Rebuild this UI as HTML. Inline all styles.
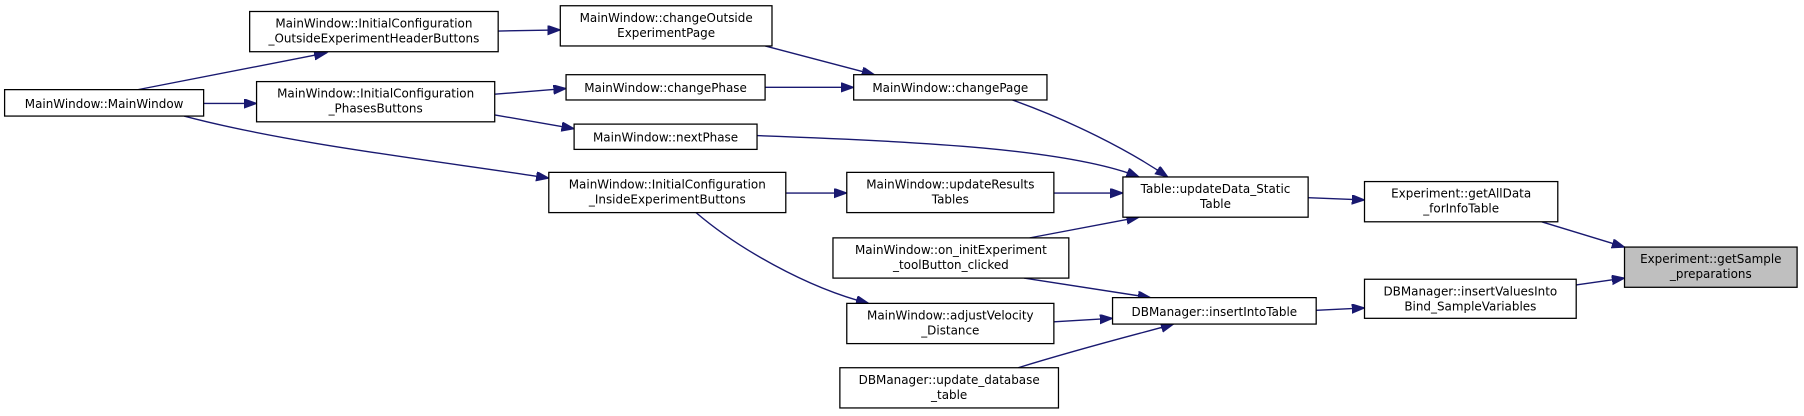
<!DOCTYPE html>
<html><head><meta charset="utf-8"><style>
html,body{margin:0;padding:0;background:#fff;width:1804px;height:416px;overflow:hidden}
svg{display:block}
text{font-family:"DejaVu Sans","Liberation Sans",sans-serif;font-size:10.4px;fill:#000;text-anchor:middle}
rect{fill:#fff;stroke:#000;stroke-width:1.1}
path.e{fill:none;stroke:#191970;stroke-width:1.2}
</style></head><body>
<svg width="1804" height="416" viewBox="0 0 1568 362" preserveAspectRatio="none">
<defs><marker id="a" markerUnits="userSpaceOnUse" markerWidth="13" markerHeight="10" refX="11" refY="4" orient="auto"><path d="M0,0 L11,4 L0,8 z" fill="#191970" stroke="#191970"/></marker></defs>
<g>
<path class="e" marker-end="url(#a)" d="M120,78 L284,46"/>
<path class="e" marker-end="url(#a)" d="M177,90 L223,90"/>
<path class="e" marker-end="url(#a)" d="M160,101 C250,125 380,140 477,155"/>
<path class="e" marker-end="url(#a)" d="M433,27 L487,26"/>
<path class="e" marker-end="url(#a)" d="M430,82 L492,77"/>
<path class="e" marker-end="url(#a)" d="M430,100 L499,112"/>
<path class="e" marker-end="url(#a)" d="M665,40 L760,65"/>
<path class="e" marker-end="url(#a)" d="M665,76 L742,76"/>
<path class="e" marker-end="url(#a)" d="M880,87 C930,105 980,130 1015,154"/>
<path class="e" marker-end="url(#a)" d="M658,118 C800,123 930,130 990,154"/>
<path class="e" marker-end="url(#a)" d="M683,168 L736,168"/>
<path class="e" marker-end="url(#a)" d="M605,185 C640,215 700,250 755,264"/>
<path class="e" marker-end="url(#a)" d="M916,168 L976,168"/>
<path class="e" marker-end="url(#a)" d="M895,207 L990,189"/>
<path class="e" marker-end="url(#a)" d="M890,242 L1000,259"/>
<path class="e" marker-end="url(#a)" d="M916,280 L967,277"/>
<path class="e" marker-end="url(#a)" d="M885,320 C950,300 1000,288 1020,282"/>
<path class="e" marker-end="url(#a)" d="M1144,270 L1186,268"/>
<path class="e" marker-end="url(#a)" d="M1137,172 L1186,174"/>
<path class="e" marker-end="url(#a)" d="M1340,193 L1412,215"/>
<path class="e" marker-end="url(#a)" d="M1370,248 L1412,242"/>
</g>
<rect x="4" y="78" width="173" height="23"/><text x="90.5" y="94">MainWindow::MainWindow</text>
<rect x="217" y="10" width="216" height="35"/><text x="325" y="24">MainWindow::InitialConfiguration</text><text x="325" y="37">_OutsideExperimentHeaderButtons</text>
<rect x="223" y="71" width="207" height="35"/><text x="326.5" y="85">MainWindow::InitialConfiguration</text><text x="326.5" y="98">_PhasesButtons</text>
<rect x="477" y="150" width="206" height="35"/><text x="580" y="164">MainWindow::InitialConfiguration</text><text x="580" y="177">_InsideExperimentButtons</text>
<rect x="487" y="5" width="184" height="35"/><text x="579" y="19">MainWindow::changeOutside</text><text x="579" y="32">ExperimentPage</text>
<rect x="492" y="65" width="173" height="22"/><text x="578.5" y="80">MainWindow::changePhase</text>
<rect x="499" y="108" width="159" height="22"/><text x="578.5" y="123">MainWindow::nextPhase</text>
<rect x="742" y="65" width="168" height="22"/><text x="826" y="80">MainWindow::changePage</text>
<rect x="736" y="150" width="180" height="35"/><text x="826" y="164">MainWindow::updateResults</text><text x="826" y="177">Tables</text>
<rect x="724" y="207" width="205" height="35"/><text x="826.5" y="221">MainWindow::on_initExperiment</text><text x="826.5" y="234">_toolButton_clicked</text>
<rect x="736" y="264" width="180" height="35"/><text x="826" y="278">MainWindow::adjustVelocity</text><text x="826" y="291">_Distance</text>
<rect x="730" y="320" width="190" height="35"/><text x="825" y="334">DBManager::update_database</text><text x="825" y="347">_table</text>
<rect x="976" y="154" width="161" height="35"/><text x="1056.5" y="168">Table::updateData_Static</text><text x="1056.5" y="181">Table</text>
<rect x="967" y="259" width="177" height="23"/><text x="1055.5" y="275">DBManager::insertIntoTable</text>
<rect x="1186" y="158" width="168" height="35"/><text x="1270" y="172">Experiment::getAllData</text><text x="1270" y="185">_forInfoTable</text>
<rect x="1186" y="243" width="184" height="34"/><text x="1278" y="257">DBManager::insertValuesInto</text><text x="1278" y="270">Bind_SampleVariables</text>
<rect x="1412" y="215" width="150" height="35" style="fill:#bfbfbf"/><text x="1487" y="229">Experiment::getSample</text><text x="1487" y="242">_preparations</text>
</svg>
</body></html>
